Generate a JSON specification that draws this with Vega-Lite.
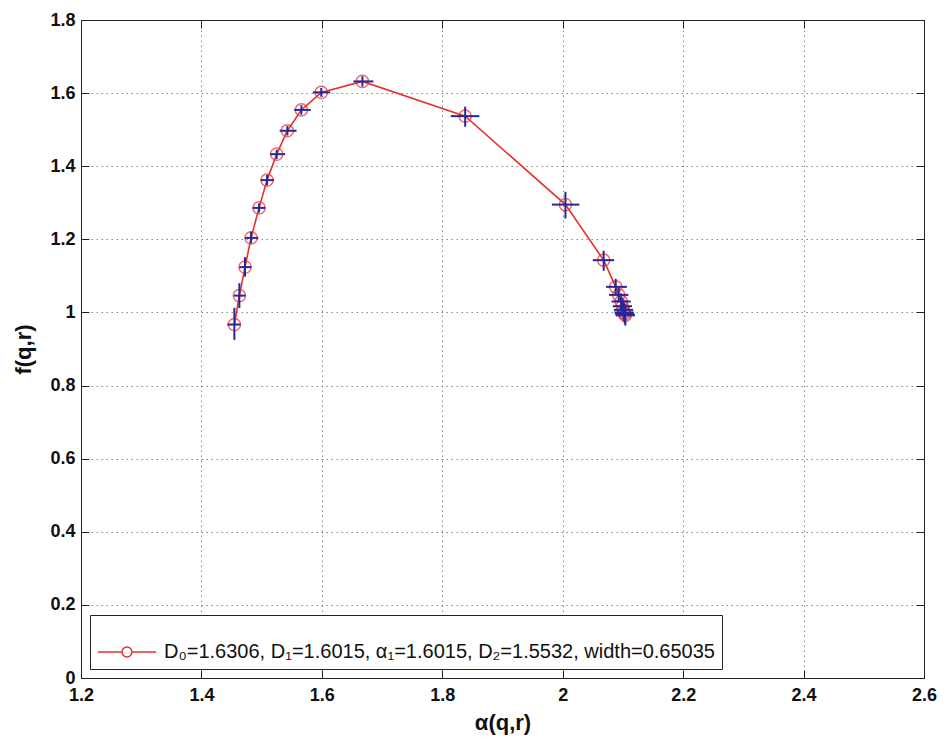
{
  "$schema": "https://vega.github.io/schema/vega-lite/v6.json",
  "autosize": "none",
  "width": 843,
  "height": 658,
  "padding": {"left": 81, "top": 20, "right": 21, "bottom": 67},
  "background": "white",
  "config": {
    "view": {"stroke": "#222", "strokeWidth": 1},
    "font": "Liberation Sans",
    "axis": {
      "domainColor": "#222",
      "tickColor": "#222",
      "tickSize": -8,
      "labelPadding": 14,
      "labelFont": "Liberation Sans",
      "labelFontWeight": "bold",
      "labelFontSize": 18,
      "labelColor": "#111",
      "titleFont": "Liberation Sans",
      "titleFontWeight": "bold",
      "titleFontSize": 22,
      "titleColor": "#111",
      "gridColor": "#888",
      "gridDash": [1.5, 3.5],
      "gridOpacity": 1,
      "gridWidth": 1
    },
    "legend": {
      "orient": "bottom-left",
      "offset": 9,
      "fillColor": "white",
      "strokeColor": "#222",
      "padding": 7,
      "labelFont": "Liberation Sans",
      "labelFontSize": 20,
      "labelColor": "#111",
      "labelLimit": 800,
      "symbolType": "M-1,0L-0.17,0M0.17,0L1,0M-0.17,0A0.17,0.17 0 1,0 0.17,0A0.17,0.17 0 1,0 -0.17,0",
      "symbolSize": 3400,
      "symbolStrokeWidth": 1.5,
      "symbolFillColor": "transparent",
      "symbolStrokeColor": "#e8302c",
      "labelOffset": 7
    }
  },
  "data": {
    "values": [
      {"a": 1.4547, "f": 0.967, "alo": 1.443, "ahi": 1.465, "flo": 0.925, "fhi": 1.013, "s": "D₀=1.6306, D₁=1.6015, α₁=1.6015, D₂=1.5532, width=0.65035"},
      {"a": 1.463, "f": 1.046, "alo": 1.454, "ahi": 1.473, "flo": 1.012, "fhi": 1.080, "s": "D₀=1.6306, D₁=1.6015, α₁=1.6015, D₂=1.5532, width=0.65035"},
      {"a": 1.4724, "f": 1.124, "alo": 1.463, "ahi": 1.483, "flo": 1.098, "fhi": 1.151, "s": "D₀=1.6306, D₁=1.6015, α₁=1.6015, D₂=1.5532, width=0.65035"},
      {"a": 1.4824, "f": 1.204, "alo": 1.4724, "ahi": 1.4945, "flo": 1.189, "fhi": 1.221, "s": "D₀=1.6306, D₁=1.6015, α₁=1.6015, D₂=1.5532, width=0.65035"},
      {"a": 1.4957, "f": 1.286, "alo": 1.485, "ahi": 1.506, "flo": 1.273, "fhi": 1.298, "s": "D₀=1.6306, D₁=1.6015, α₁=1.6015, D₂=1.5532, width=0.65035"},
      {"a": 1.509, "f": 1.362, "alo": 1.4985, "ahi": 1.5206, "flo": 1.348, "fhi": 1.376, "s": "D₀=1.6306, D₁=1.6015, α₁=1.6015, D₂=1.5532, width=0.65035"},
      {"a": 1.525, "f": 1.433, "alo": 1.514, "ahi": 1.539, "flo": 1.420, "fhi": 1.445, "s": "D₀=1.6306, D₁=1.6015, α₁=1.6015, D₂=1.5532, width=0.65035"},
      {"a": 1.5427, "f": 1.497, "alo": 1.530, "ahi": 1.558, "flo": 1.484, "fhi": 1.510, "s": "D₀=1.6306, D₁=1.6015, α₁=1.6015, D₂=1.5532, width=0.65035"},
      {"a": 1.566, "f": 1.554, "alo": 1.554, "ahi": 1.5815, "flo": 1.541, "fhi": 1.567, "s": "D₀=1.6306, D₁=1.6015, α₁=1.6015, D₂=1.5532, width=0.65035"},
      {"a": 1.599, "f": 1.602, "alo": 1.585, "ahi": 1.614, "flo": 1.590, "fhi": 1.614, "s": "D₀=1.6306, D₁=1.6015, α₁=1.6015, D₂=1.5532, width=0.65035"},
      {"a": 1.6673, "f": 1.632, "alo": 1.6524, "ahi": 1.6856, "flo": 1.618, "fhi": 1.646, "s": "D₀=1.6306, D₁=1.6015, α₁=1.6015, D₂=1.5532, width=0.65035"},
      {"a": 1.838, "f": 1.537, "alo": 1.814, "ahi": 1.8616, "flo": 1.508, "fhi": 1.563, "s": "D₀=1.6306, D₁=1.6015, α₁=1.6015, D₂=1.5532, width=0.65035"},
      {"a": 2.0045, "f": 1.295, "alo": 1.982, "ahi": 2.0277, "flo": 1.257, "fhi": 1.330, "s": "D₀=1.6306, D₁=1.6015, α₁=1.6015, D₂=1.5532, width=0.65035"},
      {"a": 2.068, "f": 1.143, "alo": 2.050, "ahi": 2.0855, "flo": 1.114, "fhi": 1.169, "s": "D₀=1.6306, D₁=1.6015, α₁=1.6015, D₂=1.5532, width=0.65035"},
      {"a": 2.088, "f": 1.070, "alo": 2.072, "ahi": 2.1065, "flo": 1.048, "fhi": 1.092, "s": "D₀=1.6306, D₁=1.6015, α₁=1.6015, D₂=1.5532, width=0.65035"},
      {"a": 2.093, "f": 1.048, "alo": 2.077, "ahi": 2.109, "flo": 1.028, "fhi": 1.068, "s": "D₀=1.6306, D₁=1.6015, α₁=1.6015, D₂=1.5532, width=0.65035"},
      {"a": 2.097, "f": 1.030, "alo": 2.081, "ahi": 2.113, "flo": 1.008, "fhi": 1.052, "s": "D₀=1.6306, D₁=1.6015, α₁=1.6015, D₂=1.5532, width=0.65035"},
      {"a": 2.099, "f": 1.017, "alo": 2.083, "ahi": 2.115, "flo": 0.994, "fhi": 1.040, "s": "D₀=1.6306, D₁=1.6015, α₁=1.6015, D₂=1.5532, width=0.65035"},
      {"a": 2.101, "f": 1.007, "alo": 2.085, "ahi": 2.117, "flo": 0.982, "fhi": 1.032, "s": "D₀=1.6306, D₁=1.6015, α₁=1.6015, D₂=1.5532, width=0.65035"},
      {"a": 2.102, "f": 1.000, "alo": 2.086, "ahi": 2.118, "flo": 0.975, "fhi": 1.025, "s": "D₀=1.6306, D₁=1.6015, α₁=1.6015, D₂=1.5532, width=0.65035"},
      {"a": 2.103, "f": 0.996, "alo": 2.087, "ahi": 2.119, "flo": 0.970, "fhi": 1.022, "s": "D₀=1.6306, D₁=1.6015, α₁=1.6015, D₂=1.5532, width=0.65035"},
      {"a": 2.104, "f": 0.992, "alo": 2.088, "ahi": 2.120, "flo": 0.964, "fhi": 1.020, "s": "D₀=1.6306, D₁=1.6015, α₁=1.6015, D₂=1.5532, width=0.65035"}
    ]
  },
  "layer": [
    {
      "mark": {"type": "line", "strokeWidth": 1.6, "color": "#e8302c"},
      "encoding": {
        "x": {"field": "a", "type": "quantitative", "scale": {"domain": [1.2, 2.6], "nice": false, "zero": false},
              "axis": {"title": "α(q,r)", "values": [1.2, 1.4, 1.6, 1.8, 2.0, 2.2, 2.4, 2.6], "format": "~g", "titlePadding": 8, "labelPadding": 16, "labelFlush": false}},
        "y": {"field": "f", "type": "quantitative", "scale": {"domain": [0, 1.8], "nice": false},
              "axis": {"title": "f(q,r)", "values": [0, 0.2, 0.4, 0.6, 0.8, 1.0, 1.2, 1.4, 1.6, 1.8], "format": "~g", "titlePadding": 14, "labelFlush": false}},
        "color": {"field": "s", "type": "nominal", "scale": {"range": ["#e8302c"]}, "legend": {"title": null}}
      }
    },
    {
      "mark": {"type": "point", "shape": "circle", "filled": false, "size": 150, "strokeWidth": 1.5, "color": "#e8302c"},
      "encoding": {
        "x": {"field": "a", "type": "quantitative", "scale": {"domain": [1.2, 2.6], "nice": false, "zero": false},
              "axis": {"orient": "top", "labels": false, "title": null, "grid": false, "values": [1.2, 1.4, 1.6, 1.8, 2.0, 2.2, 2.4, 2.6]}},
        "y": {"field": "f", "type": "quantitative", "scale": {"domain": [0, 1.8], "nice": false},
              "axis": {"orient": "right", "labels": false, "title": null, "grid": false, "values": [0, 0.2, 0.4, 0.6, 0.8, 1.0, 1.2, 1.4, 1.6, 1.8]}}
      }
    },
    {
      "mark": {"type": "rule", "strokeWidth": 2, "color": "#27279a"},
      "encoding": {
        "x": {"field": "alo", "type": "quantitative", "axis": null},
        "x2": {"field": "ahi"},
        "y": {"field": "f", "type": "quantitative", "axis": null}
      }
    },
    {
      "mark": {"type": "rule", "strokeWidth": 2, "color": "#27279a"},
      "encoding": {
        "x": {"field": "a", "type": "quantitative", "axis": null},
        "y": {"field": "flo", "type": "quantitative", "axis": null},
        "y2": {"field": "fhi"}
      }
    }
  ],
  "resolve": {"axis": {"x": "independent", "y": "independent"}}
}
